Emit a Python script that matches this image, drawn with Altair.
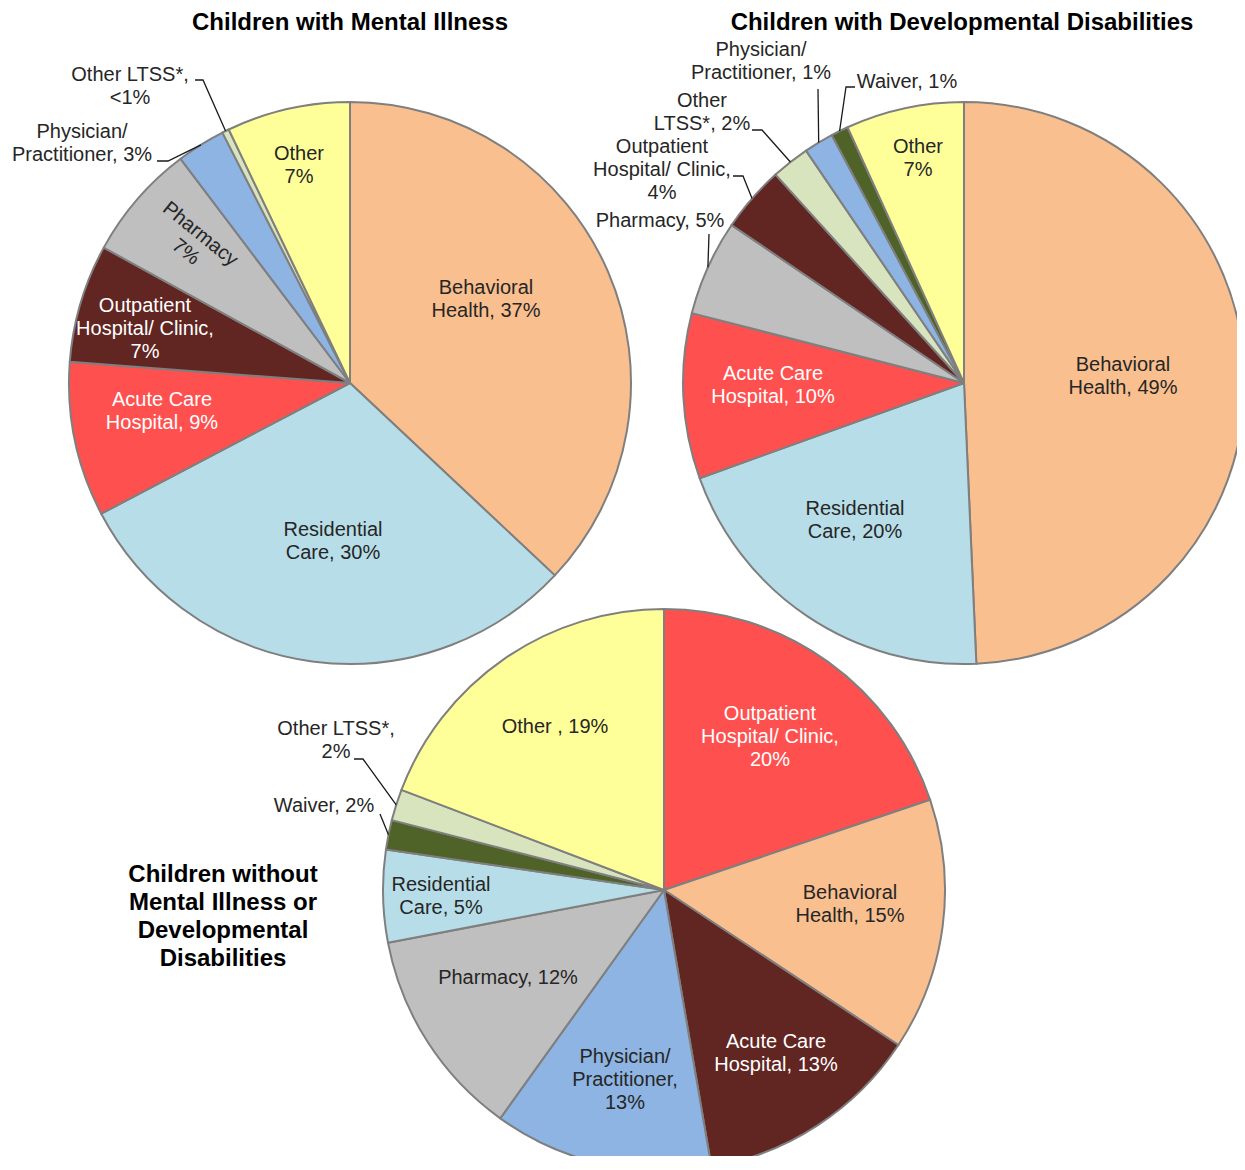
import math
import altair as alt
import pandas as pd

# ---------------- data ----------------
mi_cats = ["Behavioral Health", "Residential Care", "Acute Care Hospital",
           "Outpatient Hospital/Clinic", "Pharmacy", "Physician/Practitioner",
           "Other LTSS*", "Other"]
mi_vals = [37.0, 30.3, 8.9, 6.8, 6.7, 2.8, 0.4, 7.1]
mi_labels = ["Behavioral\nHealth, 37%", "Residential\nCare, 30%",
             "Acute Care\nHospital, 9%", "Outpatient\nHospital/ Clinic,\n7%",
             "Pharmacy\n7%", "Physician/\nPractitioner, 3%",
             "Other LTSS*,\n<1%", "Other\n7%"]

dd_cats = ["Behavioral Health", "Residential Care", "Acute Care Hospital",
           "Pharmacy", "Outpatient Hospital/Clinic", "Other LTSS*",
           "Physician/Practitioner", "Waiver", "Other"]
dd_vals = [49.3, 20.2, 9.5, 5.5, 3.8, 2.2, 1.7, 1.0, 6.8]
dd_labels = ["Behavioral\nHealth, 49%", "Residential\nCare, 20%",
             "Acute Care\nHospital, 10%", "Pharmacy, 5%",
             "Outpatient\nHospital/ Clinic,\n4%", "Other\nLTSS*, 2%",
             "Physician/\nPractitioner, 1%", "Waiver, 1%", "Other\n7%"]

nn_cats = ["Outpatient Hospital/Clinic", "Behavioral Health", "Acute Care Hospital",
           "Physician/Practitioner", "Pharmacy", "Residential Care",
           "Waiver", "Other LTSS*", "Other"]
nn_vals = [19.8, 14.5, 13.0, 12.6, 12.1, 5.3, 1.7, 1.8, 19.2]
nn_labels = ["Outpatient\nHospital/ Clinic,\n20%", "Behavioral\nHealth, 15%",
             "Acute Care\nHospital, 13%", "Physician/\nPractitioner,\n13%",
             "Pharmacy, 12%", "Residential\nCare, 5%", "Waiver, 2%",
             "Other LTSS*,\n2%", "Other , 19%"]

titles = ["Children with Mental Illness",
          "Children with Developmental Disabilities",
          "Children without\nMental Illness or\nDevelopmental\nDisabilities"]

# ---------------- styles / layout ----------------
ORANGE, LBLUE, RED, BROWN = "#F9BF8F", "#B7DEE8", "#FF5050", "#612522"
GRAY, BLUE, PGREEN, DGREEN, YELLOW = "#BFBFBF", "#8DB4E2", "#D7E4BD", "#4F6228", "#FFFF99"
mi_colors = [ORANGE, LBLUE, RED, BROWN, GRAY, BLUE, PGREEN, YELLOW]
dd_colors = [ORANGE, LBLUE, RED, GRAY, BROWN, PGREEN, BLUE, DGREEN, YELLOW]
nn_colors = [RED, ORANGE, BROWN, BLUE, GRAY, LBLUE, DGREEN, PGREEN, YELLOW]

OFF = 8            # page margin
W, H = 1229, 1148
R = 281
LABEL_FS, LABEL_LH = 20, 23
TITLE_FS, TITLE_LH = 24, 28.2
DARK, WHITE = "#262626", "#FFFFFF"

# label block centres (page pixels)
pies = [
    dict(cats=mi_cats, vals=mi_vals, labels=mi_labels, colors=mi_colors, c=(350, 383),
         pos=[(486, 299), (333, 541), (162, 411), (145, 329), (193, 243),
              (82, 143), (130, 86), (299, 165)],
         white=[2, 3], angle={4: 39},
         leaders=[(5, [(157, 161), (168, 161)]), (6, [(195, 80), (203, 80)])]),
    dict(cats=dd_cats, vals=dd_vals, labels=dd_labels, colors=dd_colors, c=(964, 383),
         pos=[(1123, 376), (855, 520), (773, 385), (660, 221), (662, 170),
              (702, 112), (761, 61), (907, 82), (918, 158)],
         white=[2], angle={},
         leaders=[(3, [(709, 234)]), (4, [(733, 176), (743, 176)]),
                  (5, [(752, 130), (762, 130)]), (6, [(818, 89)]),
                  (7, [(855, 87), (846, 87)])]),
    dict(cats=nn_cats, vals=nn_vals, labels=nn_labels, colors=nn_colors, c=(664, 890),
         pos=[(770, 737), (850, 904), (776, 1053), (625, 1080), (508, 978),
              (441, 896), (324, 806), (336, 740), (555, 727)],
         white=[0, 2], angle={},
         leaders=[(7, [(354, 759), (363, 759)]), (6, [(380, 814)])]),
]
# title anchor: centre x, baseline of first line (page pixels)
title_pos = [(350, 30), (962, 30), (223, 881.5)]


def arc_point(vals, i, cx, cy, r):
    tot = sum(vals)
    c = sum(vals[:i]) + vals[i] / 2.0
    a = 2 * math.pi * c / tot
    return cx + r * math.sin(a), cy - r * math.cos(a)


def first_line_anchor(text, x, y, lh, angle_deg=0.0):
    # Vega draws the first line at the anchor; shift so the block is centred
    n = text.count("\n") + 1
    shift = (n - 1) * lh / 2.0
    a = math.radians(angle_deg)
    return x + shift * math.sin(a), y - shift * math.cos(a)


layers = []
label_rows, line_rows = [], []
lid = 0
for p in pies:
    cx, cy = p["c"]
    df = pd.DataFrame({"category": p["cats"], "value": p["vals"],
                       "color": p["colors"], "idx": list(range(len(p["cats"])))})
    layers.append(
        alt.Chart(df).mark_arc(outerRadius=R, stroke="#7F7F7F", strokeWidth=2,
                               strokeJoin="round").encode(
            theta=alt.Theta("value:Q", stack="normalize"),
            order=alt.Order("idx:Q", sort="ascending"),
            color=alt.Color("color:N", scale=None),
            x=alt.value(cx - OFF), y=alt.value(cy - OFF),
        )
    )
    for i, (t, (lx, ly)) in enumerate(zip(p["labels"], p["pos"])):
        ang = p["angle"].get(i, 0)
        ax, ay = first_line_anchor(t, lx, ly, LABEL_LH, ang)
        label_rows.append(dict(text=t, x=ax - OFF, y=ay - OFF,
                               fill=WHITE if i in p["white"] else DARK,
                               angle=ang))
    for si, pts in p["leaders"]:
        ex, ey = arc_point(p["vals"], si, cx, cy, R)
        allpts = list(pts) + [(ex, ey)]
        for k, (px, py) in enumerate(allpts):
            line_rows.append(dict(lid=lid, pt=k, x=px - OFF, y=py - OFF))
        lid += 1

lines = alt.Chart(pd.DataFrame(line_rows)).mark_line(color="#1a1a1a", strokeWidth=1.3).encode(
    x=alt.X("x:Q", scale=None, axis=None),
    y=alt.Y("y:Q", scale=None, axis=None),
    detail="lid:N",
    order="pt:Q",
)

labels = alt.Chart(pd.DataFrame(label_rows)).mark_text(
    font="Liberation Sans", fontSize=LABEL_FS, lineHeight=LABEL_LH, align="center",
    baseline="middle", lineBreak="\n").encode(
    x=alt.X("x:Q", scale=None, axis=None),
    y=alt.Y("y:Q", scale=None, axis=None),
    text="text:N",
    color=alt.Color("fill:N", scale=None),
    angle=alt.Angle("angle:Q", scale=None),
)

tdf = pd.DataFrame({"text": titles,
                    "x": [p[0] - OFF for p in title_pos],
                    "y": [p[1] - OFF for p in title_pos]})
title_layer = alt.Chart(tdf).mark_text(
    font="Liberation Sans", fontSize=TITLE_FS, fontWeight="bold", lineHeight=TITLE_LH,
    align="center", baseline="alphabetic", lineBreak="\n", color="#000000").encode(
    x=alt.X("x:Q", scale=None, axis=None),
    y=alt.Y("y:Q", scale=None, axis=None),
    text="text:N",
)

chart = alt.layer(*layers, lines, labels, title_layer).properties(
    width=W, height=H, padding=0, autosize="none"
).configure_view(stroke=None)

chart.save("out.html", embed_options={"renderer": "svg", "actions": False})
